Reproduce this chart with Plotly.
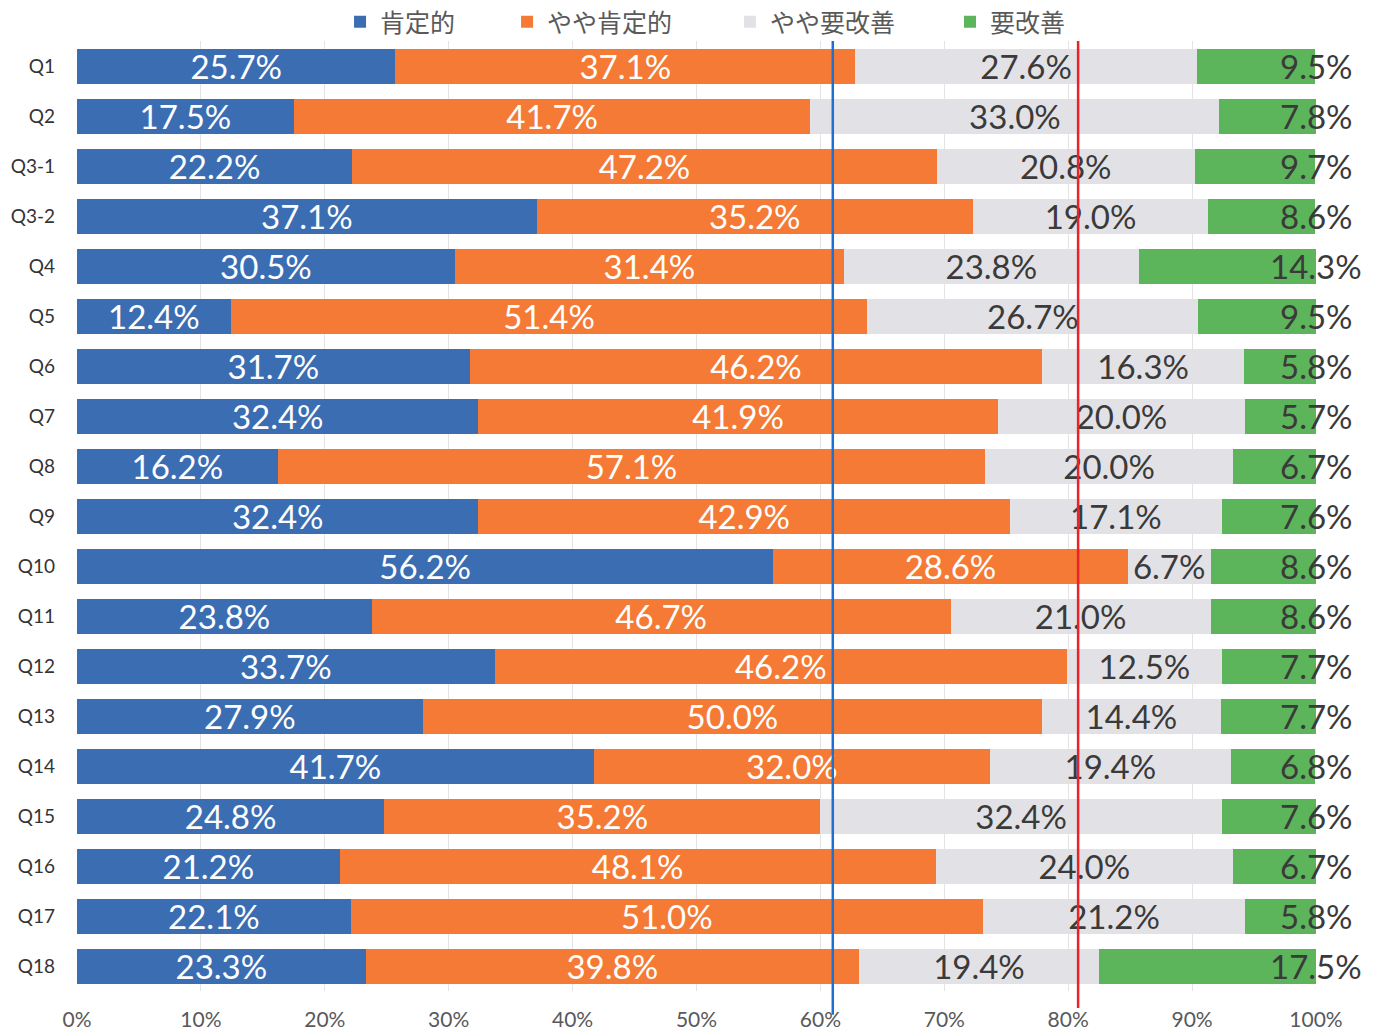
import plotly.graph_objects as go

categories = ["Q1", "Q2", "Q3-1", "Q3-2", "Q4", "Q5", "Q6", "Q7", "Q8", "Q9",
              "Q10", "Q11", "Q12", "Q13", "Q14", "Q15", "Q16", "Q17", "Q18"]
positive = [25.7, 17.5, 22.2, 37.1, 30.5, 12.4, 31.7, 32.4, 16.2, 32.4,
            56.2, 23.8, 33.7, 27.9, 41.7, 24.8, 21.2, 22.1, 23.3]
somewhat_positive = [37.1, 41.7, 47.2, 35.2, 31.4, 51.4, 46.2, 41.9, 57.1, 42.9,
                     28.6, 46.7, 46.2, 50.0, 32.0, 35.2, 48.1, 51.0, 39.8]
somewhat_needs = [27.6, 33.0, 20.8, 19.0, 23.8, 26.7, 16.3, 20.0, 20.0, 17.1,
                  6.7, 21.0, 12.5, 14.4, 19.4, 32.4, 24.0, 21.2, 19.4]
needs = [9.5, 7.8, 9.7, 8.6, 14.3, 9.5, 5.8, 5.7, 6.7, 7.6,
         8.6, 8.6, 7.7, 7.7, 6.8, 7.6, 6.7, 5.8, 17.5]
series_names = ["肯定的", "やや肯定的", "やや要改善", "要改善"]
x_ticks = [0, 10, 20, 30, 40, 50, 60, 70, 80, 90, 100]

colors = ["#3b6db3", "#f47a35", "#e2e2e6", "#5cb55a"]
text_colors = ["#ffffff", "#ffffff", "#3a3a3a", "#3a3a3a"]
LABEL_FONT = "Lato, 'Liberation Sans', sans-serif"
CJK_FONT = "'Noto Sans CJK JP', sans-serif"

fig = go.Figure()
values = [positive, somewhat_positive, somewhat_needs, needs]
legend_ids = ["legend", "legend2", "legend3", "legend4"]
for i, (name, vals) in enumerate(zip(series_names, values)):
    show_text = i < 3
    fig.add_trace(go.Bar(
        y=categories, x=vals, name=name, orientation="h",
        marker=dict(color=colors[i], line=dict(width=0)),
        text=[f"{v:.1f}%" for v in vals] if show_text else None,
        textposition="inside" if show_text else "none",
        insidetextanchor="middle",
        textangle=0,
        constraintext="none",
        insidetextfont=dict(family=LABEL_FONT, size=33, color=text_colors[i]),
        legend=legend_ids[i],
        showlegend=True,
    ))

# labels of the last series (placed near the right end, as in the source)
for cat, v in zip(categories, needs):
    fig.add_annotation(x=100, y=cat, xref="x", yref="y", text=f"{v:.1f}%",
                       showarrow=False, xanchor="center", yanchor="middle",
                       font=dict(family=LABEL_FONT, size=33, color="#3a3a3a"))

# reference lines
fig.add_shape(type="line", xref="x", yref="paper", x0=61, x1=61, y0=-0.025, y1=1.0,
              line=dict(color="#1f6fcf", width=2.5), layer="above")
fig.add_shape(type="line", xref="x", yref="paper", x0=80.8, x1=80.8, y0=-0.018, y1=1.0,
              line=dict(color="#e8232a", width=2.5), layer="above")

legend_common = dict(orientation="h", yanchor="middle", y=1.02, xanchor="left",
                     bgcolor="rgba(0,0,0,0)",
                     font=dict(family=CJK_FONT, size=25, color="#595959"))
legend_x = [0.2123, 0.3471, 0.5270, 0.7046]

fig.update_layout(
    width=1390, height=1035,
    margin=dict(l=77, r=74, t=41, b=44, autoexpand=False),
    barmode="stack", bargap=0.3,
    showlegend=True,
    plot_bgcolor="white", paper_bgcolor="white",
    legend=dict(x=legend_x[0], **legend_common),
    legend2=dict(x=legend_x[1], **legend_common),
    legend3=dict(x=legend_x[2], **legend_common),
    legend4=dict(x=legend_x[3], **legend_common),
    xaxis=dict(range=[0, 100], tickvals=x_ticks, ticktext=[f"{t}%" for t in x_ticks],
               showgrid=True, gridcolor="#e4e4e4", gridwidth=1, zeroline=False,
               showline=False, ticks="", ticklabelstandoff=14,
               tickfont=dict(family=LABEL_FONT, size=21, color="#595959")),
    yaxis=dict(autorange="reversed", showgrid=False, zeroline=False, ticks="",
               showline=False, ticklabelstandoff=21,
               tickfont=dict(family=LABEL_FONT, size=19, color="#333333")),
)

fig.write_html("out.html", config={"displayModeBar": False},
               post_script="document.body.style.margin='0';document.body.style.overflow='hidden';")
